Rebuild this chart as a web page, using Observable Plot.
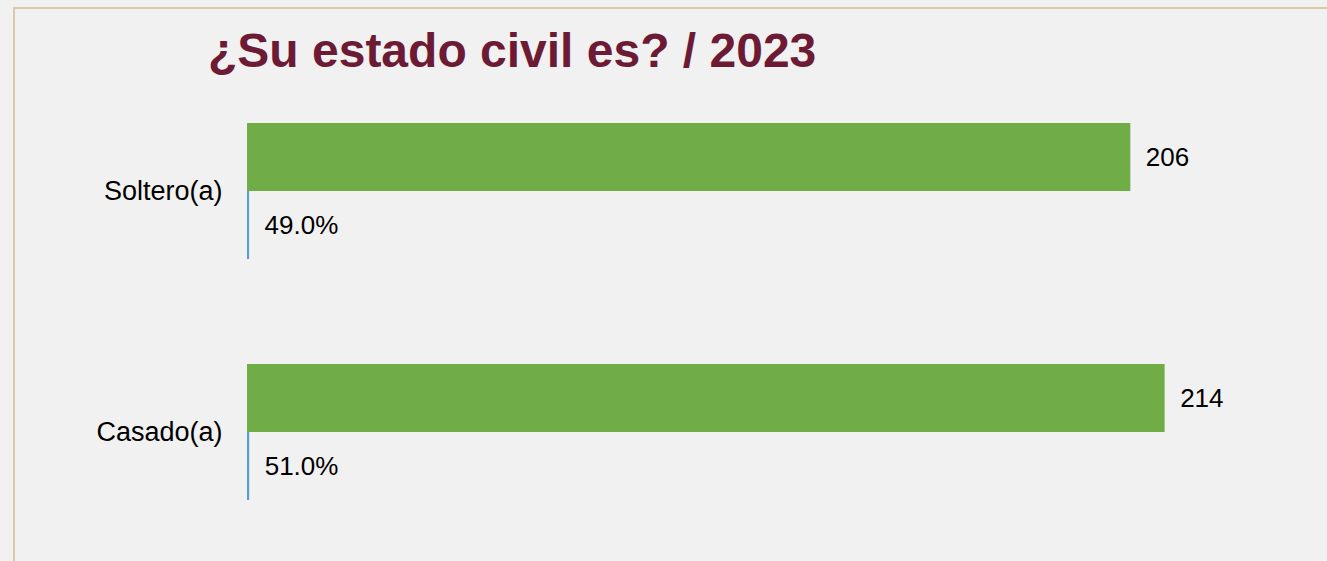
<!DOCTYPE html>
<html>
<head>
<meta charset="utf-8">
<script src="https://cdn.jsdelivr.net/npm/d3@7"></script>
<script src="https://cdn.jsdelivr.net/npm/@observablehq/plot@0.6"></script>
<style>
  html, body { margin: 0; padding: 0; background: #f1f1f1; }
  #wrap { position: relative; width: 1327px; height: 561px; overflow: hidden; background: #f1f1f1; }
  #frame { position: absolute; left: 13px; top: 7px; width: 1400px; height: 600px;
           border-left: 2px solid #dcc8a4; border-top: 2px solid #dcc8a4; box-sizing: border-box; }
  #title { position: absolute; left: 208px; top: 27px; font: bold 48px "Liberation Sans", Arial, sans-serif;
           line-height: 48px; color: #6d1b35; white-space: nowrap; }
  #chart { position: absolute; left: 0; top: 0; }
</style>
</head>
<body>
<div id="wrap">
  <div id="frame"></div>
  <div id="chart"></div>
  <div id="title">¿Su estado civil es? / 2023</div>
</div>
<script>
const categories = ["Soltero(a)", "Casado(a)"];
const counts = [206, 214];
const percents = [49.0, 51.0];
const series = ["Cantidad", "Porcentaje"];
const seriesColors = ["#70ad47", "#5b9bd5"];

const rows = [];
categories.forEach((c, i) => {
  rows.push({cat: c, series: series[0], value: counts[i], label: String(counts[i])});
  rows.push({cat: c, series: series[1], value: percents[i] / 100, label: percents[i].toFixed(1) + "%"});
});

const chart = Plot.plot({
  width: 1327,
  height: 561,
  marginLeft: 247,
  marginRight: 8,
  marginTop: 122,
  marginBottom: 61,
  style: {background: "transparent", fontFamily: "'Liberation Sans', Arial, sans-serif", fontSize: "26px", color: "#000"},
  x: {domain: [0, 250], axis: null},
  y: {domain: series, axis: null, padding: 0},
  fy: {domain: categories, paddingInner: 0.4333, paddingOuter: 0, axis: null, label: null},
  color: {domain: series, range: seriesColors},
  marks: [
    Plot.barX(rows, {fy: "cat", y: "series", x: "value", fill: "series"}),
    Plot.text(rows, {fy: "cat", y: "series", x: "value", text: "label", dx: 15, textAnchor: "start", fontSize: 26, fill: "#000"}),
    Plot.axisFy({anchor: "left", tickSize: 0, tickPadding: 25, fontSize: 27, label: null, fill: "#000"})
  ]
});
document.getElementById("chart").appendChild(chart);
</script>
</body>
</html>
